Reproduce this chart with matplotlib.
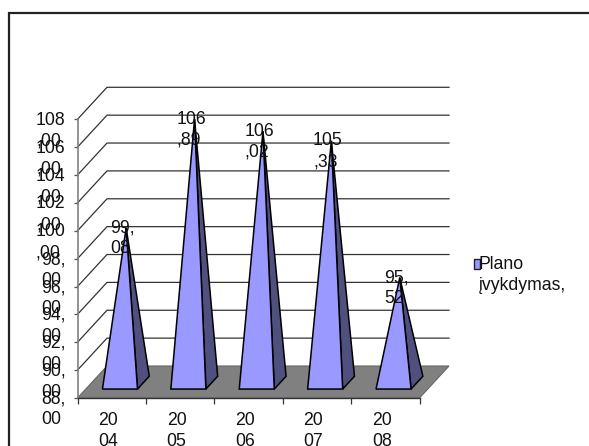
import matplotlib
matplotlib.use("Agg")
import matplotlib.pyplot as plt
from matplotlib.patches import Polygon, Rectangle
from matplotlib.transforms import ScaledTranslation

years = ["20\n04", "20\n05", "20\n06", "20\n07", "20\n08"]
values = [99.08, 106.89, 106.02, 105.33, 95.52]
value_labels = ["99,\n08", "106\n,89", "106\n,02", "105\n,33", "95,\n52"]
y_ticks = [88, 90, 92, 94, 96, 98, 100, 102, 104, 106, 108]
y_tick_labels = ["88,\n00", "90,\n00", "92,\n00", "94,\n00", "96,\n00", "98,\n00",
                 "100\n,00", "102\n,00", "104\n,00", "106\n,00", "108\n,00"]
series_name = "Plano\nįvykdymas,"

W, H = 589, 446
plt.rcParams["font.family"] = ["Liberation Sans", "DejaVu Sans"]
FS = 12.7
LS = 1.3
TXT = "#111111"
fig = plt.figure(figsize=(W / 100, H / 100), dpi=100, facecolor="white")

# frame of the chart area
fig.add_artist(Rectangle((8.5 / W, -0.05), 1.2, 1 - 12.5 / H + 0.05, transform=fig.transFigure,
                         fill=False, ec="#222222", lw=1.6))

L, R, T, B = 77.5, 419.5, 119.3, 398
ax = fig.add_axes([L / W, 1 - B / H, (R - L) / W, (B - T) / H])
ax.set_xlim(0, 5)
ax.set_ylim(88, 108)
ax.patch.set_visible(False)

DX = 29.5 / ((R - L) / 5)     # depth shift in category units
DY = 32 / ((B - T) / 20)      # depth shift in value units


def proj(x, v, d):
    return (x + d * DX, v + d * DY)


# floor
ax.add_patch(Polygon([proj(0, 88, 0), proj(0, 88, 1), proj(5, 88, 1), proj(5, 88, 0)],
                     closed=True, fc="#808080", ec="#666666", lw=0.8, zorder=1, clip_on=False))
# gridlines on side wall and back wall
for t in y_ticks[1:]:
    pts = [proj(0, t, 0), proj(0, t, 1), proj(5, t, 1)]
    ax.plot(*zip(*pts), color="#333333", lw=0.9, zorder=1, clip_on=False)

HW, D0, D1, DC = 0.256, 0.28, 0.68, 0.49
for i, v in enumerate(values):
    c = i + 0.5
    apex = proj(c, v, DC)
    fl, fr = proj(c - HW, 88, D0), proj(c + HW, 88, D0)
    br = proj(c + HW, 88, D1)
    ax.add_patch(Polygon([fr, br, apex], closed=True, fc="#50507F", ec="black", lw=1.1,
                         zorder=3, clip_on=False))
    ax.add_patch(Polygon([fl, fr, apex], closed=True, fc="#9999FF", ec="black", lw=1.1,
                         zorder=4, clip_on=False))
    ax.annotate(value_labels[i], xy=apex, xytext=(-3.5 * 0.72, 8.5 * 0.72), textcoords="offset points",
                ha="center", va="top", ma="left", fontsize=FS, color=TXT,
                zorder=6, linespacing=LS, annotation_clip=False)

for s in ("top", "right"):
    ax.spines[s].set_visible(False)
ax.spines["left"].set_color("#808080")
ax.spines["left"].set_linewidth(1.2)
ax.spines["bottom"].set_color("#333333")
ax.spines["bottom"].set_linewidth(1.0)

ax.set_yticks(y_ticks)
ax.set_yticklabels(y_tick_labels, fontsize=FS, color=TXT, linespacing=LS)
ax.tick_params(axis="y", length=3, width=0.9, color="#555555", pad=5.5)
up = ScaledTranslation(0, 7.5 / 100, fig.dpi_scale_trans)
for lab in ax.get_yticklabels():
    lab.set_va("top")
    lab.set_ha("right")
    lab.set_multialignment("left")
    lab.set_transform(lab.get_transform() + up)

ax.set_xticks(range(6))
ax.set_xticklabels([])
ax.set_xticks([i + 0.5 for i in range(5)], labels=years, minor=True)
ax.tick_params(axis="x", which="major", length=4, width=0.9, color="#333333")
ax.tick_params(axis="x", which="minor", length=0, pad=10, labelsize=FS, labelcolor=TXT)
left = ScaledTranslation(-3.5 / 100, 0, fig.dpi_scale_trans)
for lab in ax.get_xminorticklabels():
    lab.set_linespacing(LS)
    lab.set_multialignment("left")
    lab.set_transform(lab.get_transform() + left)

# legend key and text
fig.add_artist(Rectangle((473.5 / W, 1 - 269 / H), 6.5 / W, 10 / H, transform=fig.transFigure,
                         fc="#9999FF", ec="#222222", lw=1.0))
fig.text(479 / W, 1 - 256 / H, series_name, ha="left", va="top", fontsize=FS, color=TXT,
         linespacing=LS)

fig.savefig("out.png", dpi=100, facecolor="white")
